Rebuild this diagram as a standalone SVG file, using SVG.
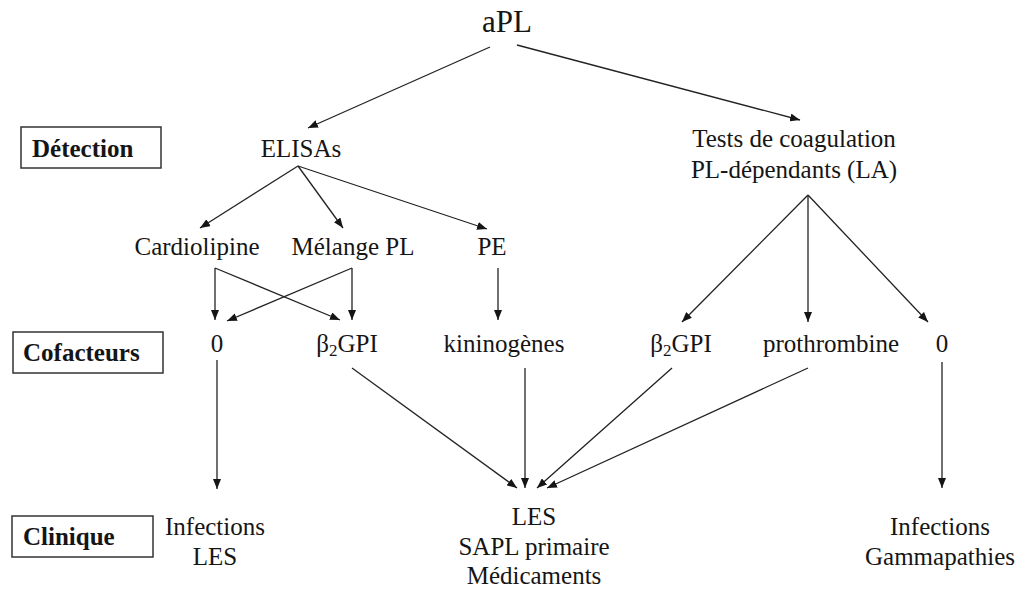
<svg xmlns="http://www.w3.org/2000/svg" width="1023" height="589" viewBox="0 0 1023 589">
<style>
text{font-size:25px;fill:#151515;text-anchor:middle}
.b{font-weight:bold;text-anchor:start}
.box{fill:none;stroke:#333;stroke-width:1.5}
.c line{stroke:#222;stroke-width:1.3;marker-end:url(#ah)}
</style>
<defs>
<marker id="ah" viewBox="0 0 10 8" refX="10" refY="4" markerWidth="10" markerHeight="8" markerUnits="userSpaceOnUse" orient="auto">
<path d="M0,0 L10,4 L0,8 Z" fill="#151515"/>
</marker>
</defs>
<rect width="1023" height="589" fill="#fff"/>
<g id="label-detection"><rect class="box" x="21" y="127" width="140" height="41"/><text class="b" x="32" y="157" style="font-family:Times">Détection</text></g>
<g id="label-cofacteurs"><rect class="box" x="13" y="332" width="150" height="41"/><text class="b" x="23" y="361" style="font-family:Times">Cofacteurs</text></g>
<g id="label-clinique"><rect class="box" x="12" y="516" width="141" height="41"/><text class="b" x="23" y="545" style="font-family:Times">Clinique</text></g>
<g id="apl"><text x="507" y="32" style="font-family:Times;font-size:31px">aPL</text></g>
<g id="elisas"><text x="301" y="157" style="font-family:Times">ELISAs</text></g>
<g id="tests"><text x="794" y="147" style="font-family:Times">Tests de coagulation</text><text x="794" y="178" style="font-family:Times">PL-dépendants (LA)</text></g>
<g id="cardiolipine"><text x="197" y="255" style="font-family:Times">Cardiolipine</text></g>
<g id="melange"><text x="353" y="255" style="font-family:Times">Mélange PL</text></g>
<g id="pe"><text x="492" y="255" style="font-family:Times">PE</text></g>
<g id="zero1"><text x="217" y="352" style="font-family:Times">0</text></g>
<g id="b2gpi1"><text x="347" y="352" style="font-family:Times">β<tspan style="font-size:17px" dy="4">2</tspan><tspan dy="-4">GPI</tspan></text></g>
<g id="kininogenes"><text x="504" y="352" style="font-family:Times">kininogènes</text></g>
<g id="b2gpi2"><text x="681" y="352" style="font-family:Times">β<tspan style="font-size:17px" dy="4">2</tspan><tspan dy="-4">GPI</tspan></text></g>
<g id="prothrombine"><text x="831" y="352" style="font-family:Times">prothrombine</text></g>
<g id="zero2"><text x="942" y="352" style="font-family:Times">0</text></g>
<g id="clin1"><text x="215" y="535" style="font-family:Times">Infections</text><text x="215" y="565" style="font-family:Times">LES</text></g>
<g id="clin2"><text x="534" y="525" style="font-family:Times">LES</text><text x="534" y="555" style="font-family:Times">SAPL primaire</text><text x="534" y="584" style="font-family:Times">Médicaments</text></g>
<g id="clin3"><text x="940" y="535" style="font-family:Times">Infections</text><text x="940" y="565" style="font-family:Times">Gammapathies</text></g>
<g id="connectors" class="c">
<line x1="490" y1="47" x2="308" y2="128"/>
<line x1="517" y1="45" x2="800" y2="120"/>
<line x1="298" y1="166" x2="200" y2="228"/>
<line x1="298" y1="166" x2="343" y2="228"/>
<line x1="298" y1="166" x2="487" y2="229"/>
<line x1="215" y1="268" x2="215" y2="320"/>
<line x1="215" y1="268" x2="340" y2="320"/>
<line x1="352" y1="268" x2="352" y2="320"/>
<line x1="352" y1="268" x2="227" y2="321"/>
<line x1="498" y1="268" x2="498" y2="320"/>
<line x1="808" y1="195" x2="682" y2="322"/>
<line x1="808" y1="195" x2="808" y2="322"/>
<line x1="808" y1="195" x2="928" y2="322"/>
<line x1="217" y1="360" x2="217" y2="489"/>
<line x1="352" y1="368" x2="517" y2="488"/>
<line x1="525" y1="368" x2="525" y2="488"/>
<line x1="672" y1="368" x2="537" y2="488"/>
<line x1="808" y1="368" x2="547" y2="488"/>
<line x1="942" y1="362" x2="942" y2="488"/>
</g>
</svg>
